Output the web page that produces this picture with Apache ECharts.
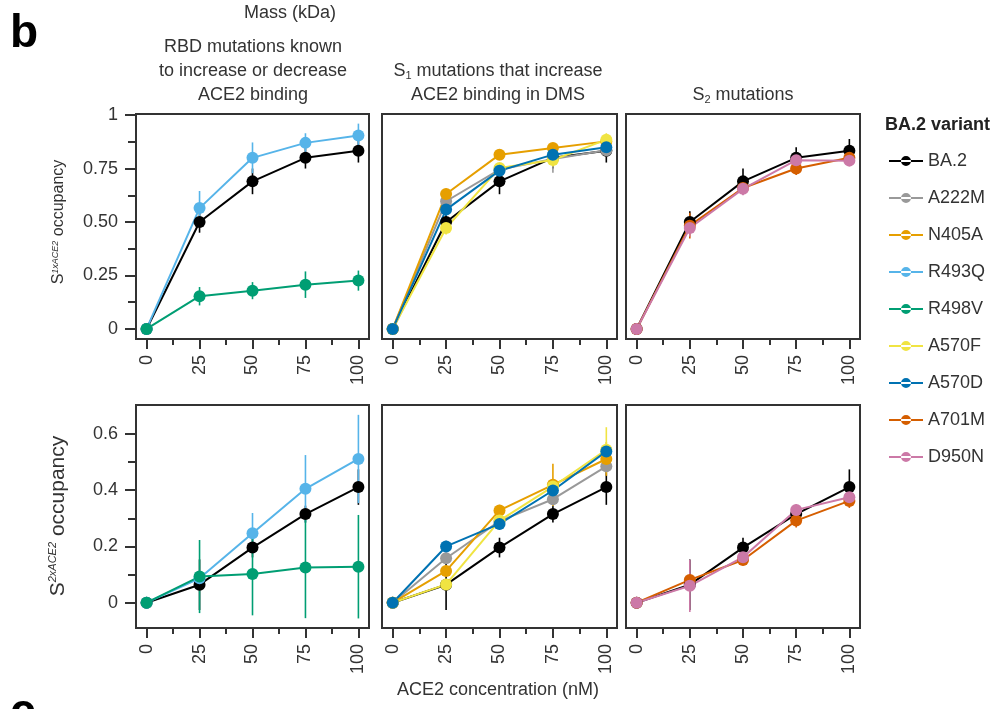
<!DOCTYPE html>
<html>
<head>
<meta charset="utf-8">
<script src="https://cdn.jsdelivr.net/npm/echarts@6/dist/echarts.min.js"></script>
<style>
  html, body { margin: 0; padding: 0; background: #fff; }
  #chart { width: 995px; height: 709px; }
</style>
</head>
<body>
<div id="chart"></div>
<script>
// ACE2 concentration (nM)
const conc = [0, 25, 50, 75, 100];
const xTicks = [0, 25, 50, 75, 100];
const xMinor = [12.5, 37.5, 62.5, 87.5];

const variants = ['BA.2', 'A222M', 'N405A', 'R493Q', 'R498V', 'A570F', 'A570D', 'A701M', 'D950N'];
const colors = ['#000000', '#999999', '#E69F00', '#56B4E9', '#009E73', '#F0E442', '#0072B2', '#D55E00', '#CC79A7'];

// S1xACE2 occupancy (top row), value and error
const s1BA2 = [0, 0.50, 0.69, 0.80, 0.833];
const s1BA2Err = [0, 0.05, 0.06, 0.05, 0.055];
const s1A222M = [0, 0.597, 0.745, 0.795, 0.835];
const s1A222MErr = [0, 0.03, 0.03, 0.065, 0.03];
const s1N405A = [0, 0.631, 0.815, 0.846, 0.877];
const s1N405AErr = [0, 0.025, 0.015, 0.02, 0.03];
const s1R493Q = [0, 0.565, 0.80, 0.87, 0.905];
const s1R493QErr = [0, 0.08, 0.072, 0.045, 0.055];
const s1R498V = [0, 0.153, 0.179, 0.207, 0.226];
const s1R498VErr = [0, 0.043, 0.04, 0.062, 0.047];
const s1A570F = [0, 0.472, 0.753, 0.79, 0.885];
const s1A570FErr = [0, 0.03, 0.02, 0.03, 0.03];
const s1A570D = [0, 0.558, 0.74, 0.815, 0.85];
const s1A570DErr = [0, 0.03, 0.02, 0.03, 0.03];
const s1A701M = [0, 0.483, 0.659, 0.75, 0.80];
const s1A701MErr = [0, 0.06, 0.02, 0.03, 0.03];
const s1D950N = [0, 0.472, 0.655, 0.789, 0.787];
const s1D950NErr = [0, 0.04, 0.03, 0.03, 0.02];

// S2xACE2 occupancy (bottom row)
const s2BA2 = [0, 0.064, 0.196, 0.315, 0.411];
const s2BA2Err = [0, 0.09, 0.035, 0.03, 0.063];
const s2A222M = [0, 0.158, 0.29, 0.368, 0.485];
const s2A222MErr = [0, 0.02, 0.02, 0.025, 0.02];
const s2N405A = [0, 0.113, 0.328, 0.419, 0.511];
const s2N405AErr = [0, 0.02, 0.02, 0.075, 0.06];
const s2R493Q = [0, 0.087, 0.247, 0.405, 0.511];
const s2R493QErr = [0, 0.02, 0.072, 0.12, 0.157];
const s2R498V = [0, 0.093, 0.102, 0.125, 0.128];
const s2R498VErr = [0, 0.13, 0.147, 0.18, 0.184];
const s2A570F = [0, 0.065, 0.292, 0.413, 0.544];
const s2A570FErr = [0, 0.02, 0.02, 0.02, 0.08];
const s2A570D = [0, 0.2, 0.28, 0.399, 0.538];
const s2A570DErr = [0, 0.02, 0.02, 0.02, 0.02];
const s2A701M = [0, 0.081, 0.152, 0.292, 0.362];
const s2A701MErr = [0, 0.02, 0.02, 0.025, 0.025];
const s2D950N = [0, 0.06, 0.162, 0.33, 0.375];
const s2D950NErr = [0, 0.093, 0.02, 0.02, 0.02];

const topYTicks = [0, 0.25, 0.5, 0.75, 1];
const topYLabels = ['0', '0.25', '0.50', '0.75', '1'];
const topYMinor = [0.125, 0.375, 0.625, 0.875];
const botYTicks = [0, 0.2, 0.4, 0.6];
const botYLabels = ['0', '0.2', '0.4', '0.6'];
const botYMinor = [0.1, 0.3, 0.5];

const panelVariants = [
  ['BA.2', 'R493Q', 'R498V'],
  ['BA.2', 'A222M', 'N405A', 'A570F', 'A570D'],
  ['BA.2', 'A701M', 'D950N']
];

const rowData = [
  { 'BA.2': [s1BA2, s1BA2Err], A222M: [s1A222M, s1A222MErr], N405A: [s1N405A, s1N405AErr],
    R493Q: [s1R493Q, s1R493QErr], R498V: [s1R498V, s1R498VErr], A570F: [s1A570F, s1A570FErr],
    A570D: [s1A570D, s1A570DErr], A701M: [s1A701M, s1A701MErr], D950N: [s1D950N, s1D950NErr] },
  { 'BA.2': [s2BA2, s2BA2Err], A222M: [s2A222M, s2A222MErr], N405A: [s2N405A, s2N405AErr],
    R493Q: [s2R493Q, s2R493QErr], R498V: [s2R498V, s2R498VErr], A570F: [s2A570F, s2A570FErr],
    A570D: [s2A570D, s2A570DErr], A701M: [s2A701M, s2A701MErr], D950N: [s2D950N, s2D950NErr] }
];

const FONT = "'Liberation Sans', Arial, Helvetica, sans-serif";
const TXT = '#333';

const cols = [{ left: 136, width: 233 }, { left: 382, width: 235 }, { left: 626, width: 234 }];
const rows = [
  { top: 114, height: 225, min: -0.047, max: 1.005, ticks: topYTicks, labels: topYLabels, minor: topYMinor },
  { top: 405, height: 223, min: -0.09, max: 0.703, ticks: botYTicks, labels: botYLabels, minor: botYMinor }
];

const grid = [], xAxis = [], yAxis = [], series = [];

function errRender(color) {
  return function (params, api) {
    const x = api.value(0), y = api.value(1), e = api.value(2);
    const a = api.coord([x, y + e]);
    const b = api.coord([x, y - e]);
    return {
      type: 'line',
      shape: { x1: a[0], y1: a[1], x2: b[0], y2: b[1] },
      style: { stroke: color, lineWidth: 1.6 }
    };
  };
}

for (let r = 0; r < 2; r++) {
  for (let c = 0; c < 3; c++) {
    const p = r * 3 + c;
    const R = rows[r];
    grid.push({
      left: cols[c].left, width: cols[c].width, top: R.top, height: R.height,
      show: true, borderColor: '#333', borderWidth: 2, backgroundColor: 'transparent'
    });
    xAxis.push({
      type: 'value', gridIndex: p, min: -5, max: 105, position: 'bottom',
      axisLine: { show: false, onZero: false }, splitLine: { show: false },
      axisTick: { show: true, customValues: xTicks, length: 10, lineStyle: { color: '#333', width: 2 } },
      axisLabel: { customValues: xTicks, rotate: 90, margin: 16, fontSize: 18, color: TXT, fontFamily: FONT }
    });
    xAxis.push({
      type: 'value', gridIndex: p, min: -5, max: 105, position: 'bottom',
      axisLine: { show: false, onZero: false }, splitLine: { show: false },
      axisTick: { show: true, customValues: xMinor, length: 6, lineStyle: { color: '#333', width: 2 } },
      axisLabel: { show: false }
    });
    const showY = c === 0;
    yAxis.push({
      type: 'value', gridIndex: p, min: R.min, max: R.max, position: 'left',
      axisLine: { show: false, onZero: false }, splitLine: { show: false },
      axisTick: { show: showY, customValues: R.ticks, length: 11, lineStyle: { color: '#333', width: 2 } },
      axisLabel: {
        show: showY, customValues: R.ticks, margin: 18, fontSize: 18, color: TXT, fontFamily: FONT,
        formatter: (v) => { const i = R.ticks.findIndex(t => Math.abs(t - v) < 1e-6); return i >= 0 ? R.labels[i] : ''; }
      }
    });
    yAxis.push({
      type: 'value', gridIndex: p, min: R.min, max: R.max, position: 'left',
      axisLine: { show: false, onZero: false }, splitLine: { show: false },
      axisTick: { show: showY, customValues: R.minor, length: 8, lineStyle: { color: '#333', width: 2 } },
      axisLabel: { show: false }
    });

    panelVariants[c].forEach((name) => {
      const color = colors[variants.indexOf(name)];
      const vals = rowData[r][name][0];
      const errs = rowData[r][name][1];
      series.push({
        type: 'custom', name: name, xAxisIndex: p * 2, yAxisIndex: p * 2,
        renderItem: errRender(color), clip: false, silent: true,
        itemStyle: { color: color },
        encode: { x: 0, y: 1 },
        data: conc.map((x, i) => [x, vals[i], errs[i]])
      });
      series.push({
        type: 'line', name: name, xAxisIndex: p * 2, yAxisIndex: p * 2,
        data: conc.map((x, i) => [x, vals[i]]),
        symbol: 'circle', symbolSize: 12, showSymbol: true,
        lineStyle: { width: 2, color: color }, itemStyle: { color: color },
        silent: true
      });
    });
  }
}

const legendIcon = 'path://M0,4 L34,4 L34,6 L0,6 Z M12,5 A5,5 0 1 0 22,5 A5,5 0 1 0 12,5 Z';

const option = {
  animation: false,
  backgroundColor: '#fff',
  grid: grid,
  xAxis: xAxis,
  yAxis: yAxis,
  legend: {
    orient: 'vertical', left: 884, top: 146,
    itemWidth: 34, itemHeight: 10, itemGap: 17,
    selectedMode: false,
    textStyle: { fontSize: 18, lineHeight: 20, color: TXT, fontFamily: FONT },
    data: variants.map((n) => ({ name: n, icon: legendIcon }))
  },
  graphic: [
    { type: 'text', left: 10, top: 11, style: { text: 'b', font: 'bold 46px ' + FONT, fill: '#000' } },
    { type: 'text', left: 10, top: 690, style: { text: 'c', font: 'bold 46px ' + FONT, fill: '#000' } },
    { type: 'text', x: 290, y: 13, style: { text: 'Mass (kDa)', font: '18px ' + FONT, fill: TXT, textAlign: 'center', textVerticalAlign: 'middle' } },
    { type: 'text', x: 253, y: 71, style: {
      text: 'RBD mutations known\nto increase or decrease\nACE2 binding', font: '18px ' + FONT,
      lineHeight: 24, fill: TXT, textAlign: 'center', textVerticalAlign: 'middle' } },
    { type: 'text', x: 498, y: 83, style: {
      text: '{n|S}{sub|1}{n| mutations that increase}\n{n|ACE2 binding in DMS}',
      fill: TXT, textAlign: 'center', textVerticalAlign: 'middle',
      rich: {
        n: { fontSize: 18, fontFamily: FONT, lineHeight: 24, fill: TXT },
        sub: { fontSize: 11, fontFamily: FONT, lineHeight: 24, padding: [9, 0, 0, 0], fill: TXT }
      } } },
    { type: 'text', x: 743, y: 95, style: {
      text: '{n|S}{sub|2}{n| mutations}',
      fill: TXT, textAlign: 'center', textVerticalAlign: 'middle',
      rich: {
        n: { fontSize: 18, fontFamily: FONT, lineHeight: 24, fill: TXT },
        sub: { fontSize: 11, fontFamily: FONT, lineHeight: 24, padding: [9, 0, 0, 0], fill: TXT }
      } } },
    { type: 'text', x: 59, y: 222, rotation: Math.PI / 2, style: {
      text: '{n|S}{sup|1xACE2}{n| occupancy}',
      fill: TXT, textAlign: 'center', textVerticalAlign: 'middle',
      rich: {
        n: { fontSize: 16, fontFamily: FONT, fill: TXT },
        sup: { fontSize: 9, fontStyle: 'italic', fontFamily: FONT, padding: [0, 0, 8, 0], fill: TXT }
      } } },
    { type: 'text', x: 58, y: 516, rotation: Math.PI / 2, style: {
      text: '{n|S}{sup|2xACE2}{n| occupancy}',
      fill: TXT, textAlign: 'center', textVerticalAlign: 'middle',
      rich: {
        n: { fontSize: 21, fontFamily: FONT, fill: TXT },
        sup: { fontSize: 11, fontStyle: 'italic', fontFamily: FONT, padding: [0, 0, 10, 0], fill: TXT }
      } } },
    { type: 'text', x: 498, y: 690, style: { text: 'ACE2 concentration (nM)', font: '18px ' + FONT, fill: TXT, textAlign: 'center', textVerticalAlign: 'middle' } },
    { type: 'text', left: 885, top: 116, style: { text: 'BA.2 variant', font: 'bold 18px ' + FONT, fill: '#222' } }
  ],
  series: series
};

const chart = echarts.init(document.getElementById('chart'), null, { renderer: 'canvas' });
chart.setOption(option);
</script>
</body>
</html>
